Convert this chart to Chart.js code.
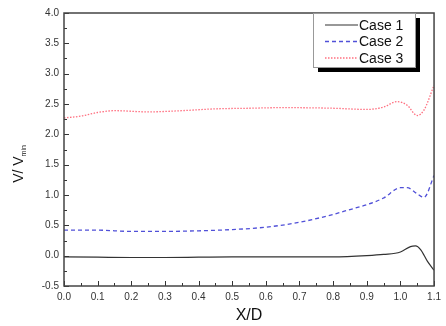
<!DOCTYPE html>
<html>
<head>
<meta charset="utf-8">
<script src="https://cdn.jsdelivr.net/npm/chart.js@4.4.1/dist/chart.umd.min.js"></script>
<style>
  html, body { margin: 0; padding: 0; background: #fff; }
  #wrap { width: 446px; height: 326px; }
</style>
</head>
<body>
<div id="wrap"><canvas id="chart" width="446" height="326"></canvas></div>
<script>
// values
const case1X = [0, 0.1, 0.2, 0.3, 0.4, 0.5, 0.6, 0.7, 0.8, 0.9, 0.95, 1.0, 1.03, 1.045, 1.06, 1.08, 1.1];
const case1Y = [-0.02, -0.025, -0.03, -0.03, -0.025, -0.02, -0.02, -0.02, -0.02, 0.0, 0.02, 0.06, 0.15, 0.16, 0.1, -0.09, -0.24];

const case2X = [0, 0.1, 0.2, 0.3, 0.4, 0.5, 0.6, 0.7, 0.8, 0.85, 0.9, 0.95, 1.0, 1.02, 1.05, 1.07, 1.1];
const case2Y = [0.42, 0.42, 0.40, 0.40, 0.41, 0.43, 0.47, 0.55, 0.68, 0.76, 0.84, 0.95, 1.12, 1.12, 1.02, 0.96, 1.32];

const case3X = [0, 0.05, 0.1, 0.15, 0.25, 0.35, 0.45, 0.55, 0.65, 0.8, 0.9, 0.95, 0.99, 1.02, 1.05, 1.07, 1.1];
const case3Y = [2.27, 2.30, 2.36, 2.39, 2.37, 2.39, 2.42, 2.43, 2.44, 2.43, 2.41, 2.45, 2.54, 2.48, 2.31, 2.40, 2.81];

const seriesNames = ["Case 1", "Case 2", "Case 3"];

function pts(xs, ys) {
    return xs.map((x, i) => ({ x: x, y: ys[i] }));
}

const FONT = "'Liberation Sans', Arial, sans-serif";

/* frame, inward ticks, titles, legend */
const decor = {
    id: 'decor',
    afterDraw(chart) {
        const ctx = chart.ctx;
        const a = chart.chartArea;
        const xs = chart.scales.x;
        const ys = chart.scales.y;
        ctx.save();
        ctx.strokeStyle = '#333';
        ctx.lineWidth = 1;
        // ticks pointing into the plot
        xs.ticks.forEach(t => {
            const px = Math.round(xs.getPixelForValue(t.value)) + 0.5;
            const major = Math.abs(Math.round(t.value * 100) % 10) === 0;
            const len = major ? 5 : 3;
            ctx.beginPath();
            ctx.moveTo(px, a.bottom);
            ctx.lineTo(px, a.bottom - len);
            ctx.stroke();
        });
        ys.ticks.forEach(t => {
            const py = Math.round(ys.getPixelForValue(t.value)) + 0.5;
            const major = Math.abs(Math.round(t.value * 100) % 50) === 0;
            const len = major ? 5 : 3;
            ctx.beginPath();
            ctx.moveTo(a.left, py);
            ctx.lineTo(a.left + len, py);
            ctx.stroke();
        });
        // box
        ctx.lineWidth = 1.5;
        ctx.strokeStyle = '#444';
        ctx.strokeRect(a.left, a.top, a.right - a.left, a.bottom - a.top);

        // axis titles
        ctx.fillStyle = '#111';
        ctx.font = '16px ' + FONT;
        ctx.textAlign = 'center';
        ctx.textBaseline = 'middle';
        ctx.fillText('X/D', (a.left + a.right) / 2, 316);

        ctx.translate(19, 164);
        ctx.rotate(-Math.PI / 2);
        ctx.font = '14px ' + FONT;
        ctx.textAlign = 'left';
        const main = 'V/ V';
        const w1 = ctx.measureText(main).width;
        ctx.font = '7px ' + FONT;
        const w2 = ctx.measureText('min').width;
        const start = -(w1 + w2) / 2;
        ctx.font = '14px ' + FONT;
        ctx.fillText(main, start, 0);
        ctx.font = '7px ' + FONT;
        ctx.fillText('min', start + w1, 5);
        ctx.restore();

        // legend with drop shadow
        ctx.save();
        const lx = 313, ly = 13, lw = 102, lh = 54;
        ctx.fillStyle = '#000';
        ctx.fillRect(lx + 5, ly + 5, lw, lh);
        ctx.fillStyle = '#fff';
        ctx.fillRect(lx, ly, lw, lh);
        ctx.strokeStyle = '#999';
        ctx.lineWidth = 1;
        ctx.strokeRect(lx + 0.5, ly + 0.5, lw, lh);
        ctx.font = '14px ' + FONT;
        ctx.textBaseline = 'middle';
        ctx.textAlign = 'left';
        chart.data.datasets.forEach((ds, i) => {
            const yy = 25 + i * 16.5;
            ctx.strokeStyle = ds.borderColor;
            ctx.lineWidth = ds.borderWidth;
            ctx.setLineDash(ds.borderDash || []);
            ctx.beginPath();
            ctx.moveTo(325, yy);
            ctx.lineTo(358, yy);
            ctx.stroke();
            ctx.setLineDash([]);
            ctx.fillStyle = '#111';
            ctx.fillText(ds.label, 359, yy + 1);
        });
        ctx.restore();
    }
};

new Chart(document.getElementById('chart'), {
    type: 'line',
    data: {
        datasets: [
            {
                label: seriesNames[0],
                data: pts(case1X, case1Y),
                borderColor: '#333333',
                borderWidth: 1.2,
                pointRadius: 0,
                cubicInterpolationMode: 'monotone'
            },
            {
                label: seriesNames[1],
                data: pts(case2X, case2Y),
                borderColor: '#5050d8',
                borderWidth: 1.3,
                borderDash: [4, 3],
                pointRadius: 0,
                cubicInterpolationMode: 'monotone'
            },
            {
                label: seriesNames[2],
                data: pts(case3X, case3Y),
                borderColor: '#ff7080',
                borderWidth: 1.3,
                borderDash: [1.5, 1.5],
                pointRadius: 0,
                cubicInterpolationMode: 'monotone'
            }
        ]
    },
    options: {
        responsive: false,
        animation: false,
        layout: { padding: { left: 0, top: 13, right: 10, bottom: 0 } },
        plugins: {
            legend: { display: false },
            tooltip: { enabled: false }
        },
        scales: {
            x: {
                type: 'linear',
                min: 0,
                max: 1.1,
                grid: { display: false, drawTicks: false },
                border: { display: false },
                ticks: {
                    stepSize: 0.05,
                    autoSkip: false,
                    maxRotation: 0,
                    padding: 5,
                    color: '#333',
                    font: { family: FONT, size: 10 },
                    callback: (v) => Math.abs(Math.round(v * 100) % 10) === 0 ? v.toFixed(1) : ''
                },
                afterFit: (s) => { s.height = 40; }
            },
            y: {
                type: 'linear',
                min: -0.5,
                max: 4.0,
                grid: { display: false, drawTicks: false },
                border: { display: false },
                ticks: {
                    stepSize: 0.25,
                    autoSkip: false,
                    padding: 5,
                    color: '#333',
                    font: { family: FONT, size: 10 },
                    callback: (v) => Math.abs(Math.round(v * 100) % 50) === 0 ? v.toFixed(1) : ''
                },
                afterFit: (s) => { s.width = 64; }
            }
        }
    },
    plugins: [decor]
});
</script>
</body>
</html>
